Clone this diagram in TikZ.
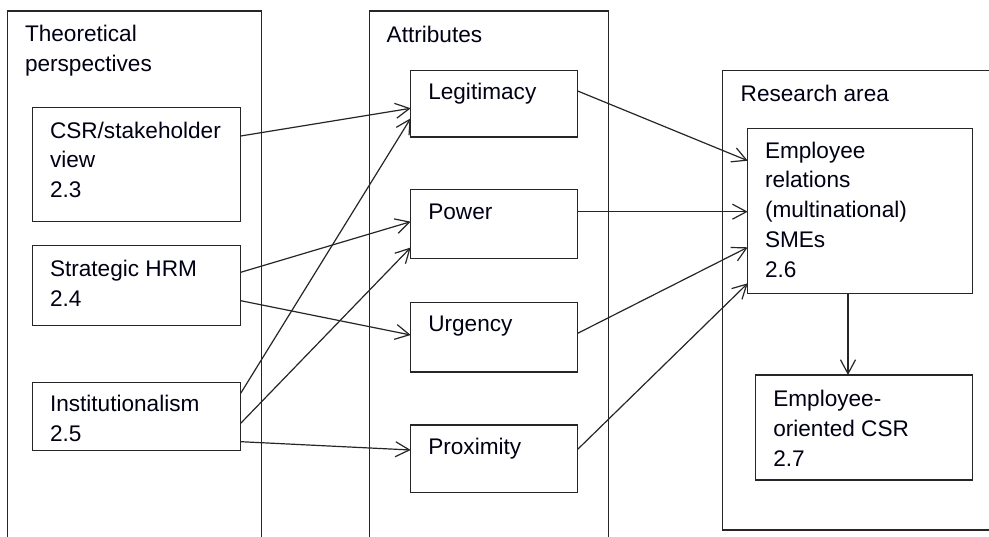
\documentclass[tikz,border=0pt]{standalone}
\usepackage{fontspec}
\setmainfont{Liberation Sans}
\usetikzlibrary{arrows.meta}

\tikzset{
  frame/.style={draw=black!85, line width=1.3pt, anchor=north west, inner sep=0pt, outer sep=0pt},
  item/.style={draw=black!85, line width=1.3pt, anchor=north west, inner sep=0pt, outer sep=0pt},
  txt/.style={anchor=north west, inner sep=0pt, outer sep=0pt, align=left, text=black!92!blue,
              font=\fontsize{22.6}{29.7}\selectfont},
  link/.style={draw=black!85, line width=1.2pt, -{Straight Barb[length=14pt,width=15pt,line width=1.2pt]}},
}
% first baseline sits 21pt below the top of each text block
\newcommand{\firstline}{\rule{0pt}{21pt}}

\begin{document}
\begin{tikzpicture}[x=1pt,y=-1pt]
  \useasboundingbox (0,0) rectangle (989,537);
  \clip (0,0) rectangle (989,537);
  \fill[white] (0,0) rectangle (989,537);

  % group frames
  \node[frame, minimum width=254.4pt, minimum height=560pt] (theory) at (7.3,11) {};
  \node[frame, minimum width=239pt,   minimum height=560pt] (attr)   at (369.3,11) {};
  \node[frame, minimum width=300pt,   minimum height=459.3pt] (area) at (722.7,70.7) {};

  \node[txt] (theoryT) at ([xshift=17.7pt,yshift=-10pt]theory.north west) {\firstline Theoretical\\perspectives};
  \node[txt] (attrT)   at ([xshift=17.4pt,yshift=-11pt]attr.north west) {\firstline Attributes};
  \node[txt] (areaT)   at ([xshift=18pt,yshift=-10pt]area.north west) {\firstline Research area};

  % theoretical perspectives
  \node[item, minimum width=208pt, minimum height=114.4pt] (csr)  at (32.7,107.3) {};
  \node[item, minimum width=208pt, minimum height=80pt]    (shrm) at (32.7,245.7) {};
  \node[item, minimum width=208pt, minimum height=68.4pt]  (inst) at (32.7,382.3) {};
  \node[txt] (csrT)  at ([xshift=17.3pt,yshift=-10pt]csr.north west)  {\firstline CSR/stakeholder\\view\\2.3};
  \node[txt] (shrmT) at ([xshift=17.3pt,yshift=-10pt]shrm.north west) {\firstline Strategic HRM\\2.4};
  \node[txt] (instT) at ([xshift=17.3pt,yshift=-8.5pt]inst.north west) {\firstline Institutionalism\\2.5};

  % attributes
  \node[item, minimum width=167pt, minimum height=66.7pt] (legit) at (410.7,70.3) {};
  \node[item, minimum width=167pt, minimum height=69pt]   (power) at (410.7,189.3) {};
  \node[item, minimum width=167pt, minimum height=69.7pt] (urg)   at (410.7,302.3) {};
  \node[item, minimum width=167pt, minimum height=67.3pt] (prox)  at (410.7,425) {};
  \node[txt] (legitT) at ([xshift=17.6pt,yshift=-8.7pt]legit.north west) {\firstline Legitimacy};
  \node[txt] (powerT) at ([xshift=17.6pt,yshift=-9pt]power.north west)   {\firstline Power};
  \node[txt] (urgT)   at ([xshift=17.6pt,yshift=-8pt]urg.north west)     {\firstline Urgency};
  \node[txt] (proxT)  at ([xshift=17.6pt,yshift=-8.3pt]prox.north west)  {\firstline Proximity};

  % research area
  \node[item, minimum width=224.6pt, minimum height=164.6pt] (er)    at (747.7,128.7) {};
  \node[item, minimum width=217pt,   minimum height=105pt]   (eocsr) at (755.3,375) {};
  \node[txt] (erT)    at ([xshift=17.3pt,yshift=-8.6pt]er.north west)  {\firstline Employee\\relations\\(multinational)\\SMEs\\2.6};
  \node[txt] (eocsrT) at ([xshift=18pt,yshift=-10.7pt]eocsr.north west) {\firstline Employee-\\oriented CSR\\2.7};

  % perspectives to attributes
  \draw[link] (csr.east |- 0,136)    -- (legit.west |- 0,108.3);
  \draw[link] (shrm.east |- 0,272.3) -- (power.west |- 0,221.7);
  \draw[link] (shrm.east |- 0,300.7) -- (urg.west |- 0,335);
  \draw[link] (inst.east |- 0,393.3) -- (legit.west |- 0,118.3);
  \draw[link] (inst.east |- 0,423.3) -- (power.west |- 0,247.5);
  \draw[link] (inst.east |- 0,441.7) -- (prox.west |- 0,450);

  % attributes to research area
  \draw[link] (legit.east |- 0,91)   -- (er.west |- 0,160.7);
  \draw[link] (power.east |- 0,211.7) -- (er.west |- 0,211.7);
  \draw[link] (urg.east |- 0,333.3)  -- (er.west |- 0,247.3);
  \draw[link] (prox.east |- 0,449.3) -- (er.west |- 0,283.3);

  % research area to employee-oriented CSR
  \draw[link] (er.south -| 848,0) -- (eocsr.north -| 848,0);
\end{tikzpicture}
\end{document}
